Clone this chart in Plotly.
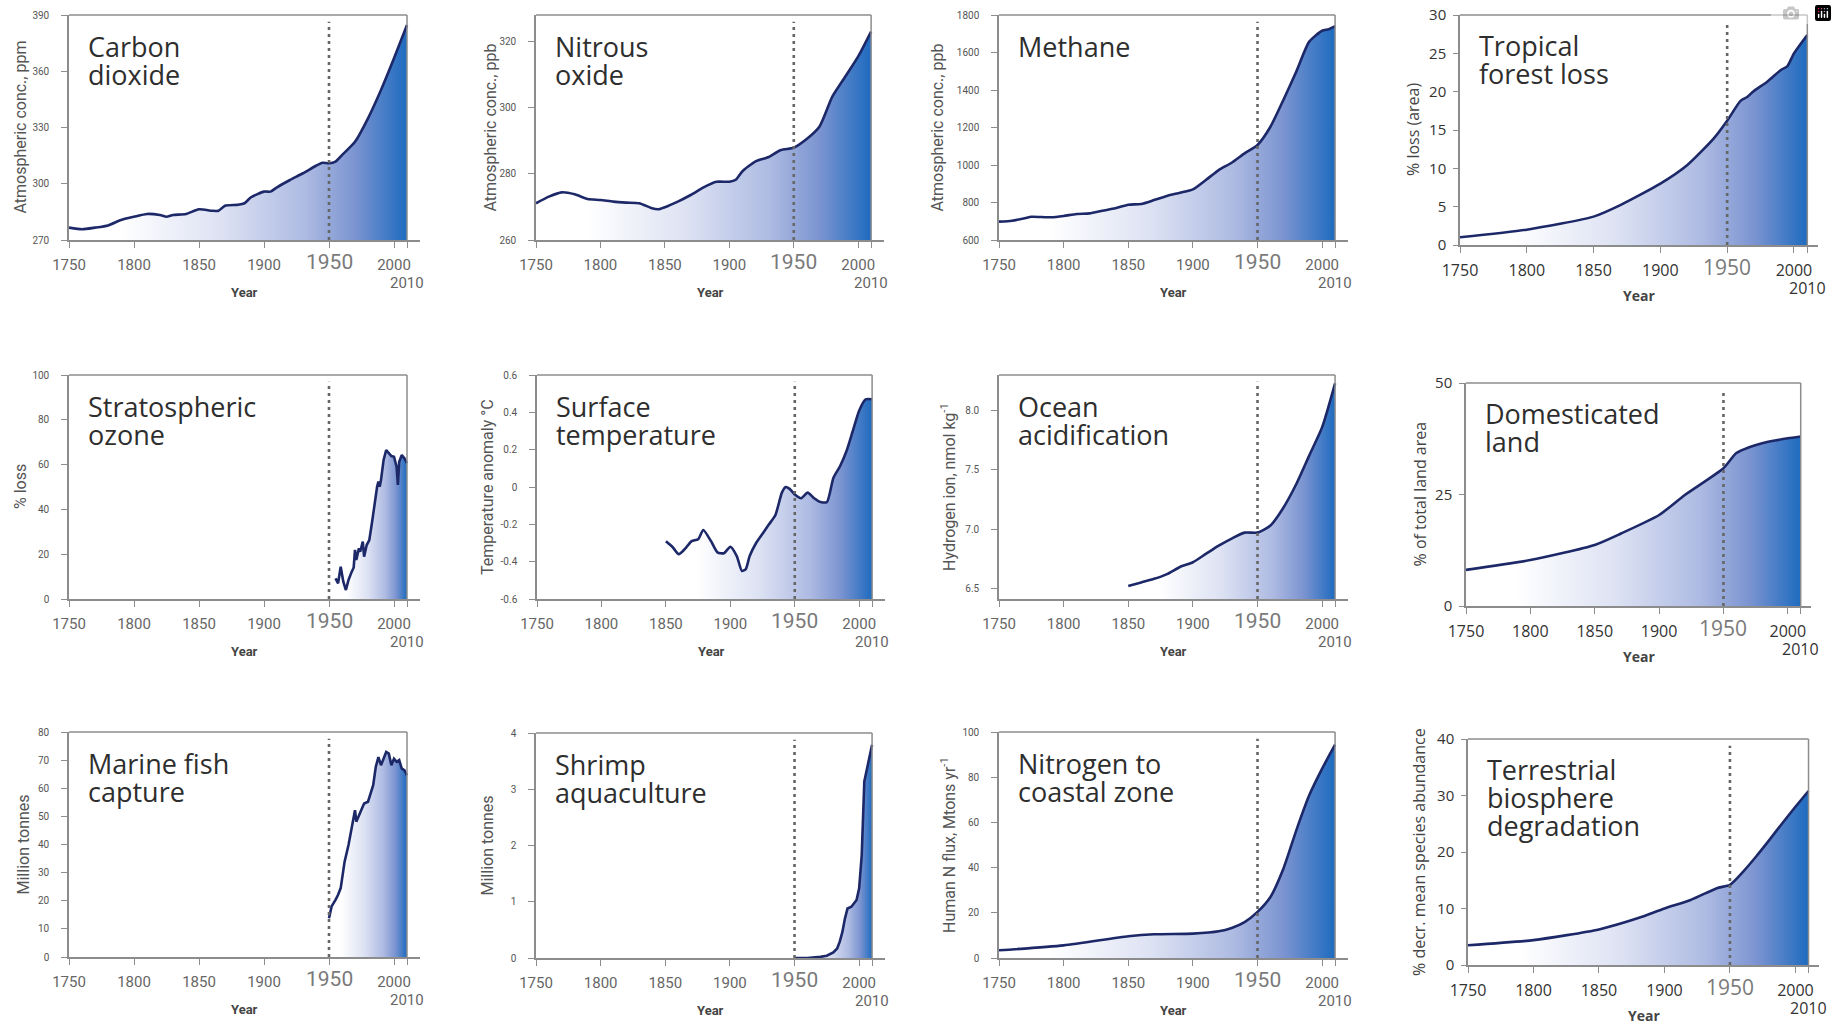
import plotly.graph_objects as go

W, H = 1837, 1024

# ---------------- data ----------------
co2_years = [1750,1760,1770,1780,1790,1800,1810,1820,1825,1830,1840,1850,1860,1865,1870,1880,1885,1890,1900,1905,1910,1920,1930,1940,1945,1950,1955,1960,1970,1980,1990,2000,2010]
co2_ppm = [276.6,275.7,276.6,277.8,280.7,282.4,283.9,283.3,282.4,283.3,283.9,286.4,285.6,285.6,288.3,288.8,289.6,292.8,295.8,295.8,298.1,302.0,305.6,309.6,311.2,310.9,311.8,315.3,322.4,334.9,350.0,366.9,384.7]

n2o_years = [1750,1760,1770,1780,1790,1800,1810,1820,1830,1840,1845,1850,1860,1870,1880,1890,1900,1905,1910,1920,1930,1940,1950,1960,1970,1980,1990,2000,2010]
n2o_ppb = [271.1,273.1,274.4,273.8,272.4,272.1,271.6,271.3,271.1,269.6,269.3,269.9,271.6,273.6,275.9,277.6,277.6,278.2,280.7,283.7,285.0,287.2,287.9,290.5,294.3,303.4,309.4,315.5,323.0]

ch4_years = [1750,1760,1770,1775,1790,1800,1810,1820,1830,1840,1850,1860,1870,1880,1890,1900,1910,1920,1930,1940,1950,1960,1970,1980,1990,2000,2005,2010]
ch4_ppb = [698,703,716,724,721,728,739,742,756,769,788,792,813,835,852,870,920,973,1012,1062,1107,1204,1347,1498,1658,1716,1724,1741]

forest_years = [1750,1800,1850,1870,1900,1920,1940,1950,1960,1965,1970,1980,1990,1995,2000,2010]
forest_loss = [1.0,2.0,3.7,5.2,8.0,10.4,13.9,16.2,18.8,19.3,20.1,21.3,22.8,23.3,25.0,27.4]

ozone_years = [1955,1957,1959,1961,1963,1965,1967,1969,1970,1971,1973,1974,1976,1977,1979,1981,1983,1985,1987,1988,1989,1990,1992,1994,1996,1998,2000,2002,2003,2004,2006,2008,2010]
ozone_loss = [9.2,7.0,14.4,7.7,4.0,8.5,11.5,14.1,21.9,17.4,22.6,21.1,25.6,18.9,24.1,26.3,33.8,42.7,50.1,52.4,50.1,53.1,62.1,66.5,65.0,63.8,63.5,59.1,50.9,61.3,64.3,62.8,60.6]

temp_years = [1850,1855,1860,1865,1870,1875,1879,1885,1890,1895,1900,1905,1909,1912,1915,1920,1925,1930,1935,1940,1943,1946,1950,1955,1960,1965,1970,1975,1980,1985,1990,1995,2000,2005,2010]
temp_anom = [-0.29,-0.32,-0.36,-0.33,-0.29,-0.28,-0.23,-0.29,-0.35,-0.355,-0.32,-0.37,-0.45,-0.44,-0.37,-0.30,-0.25,-0.20,-0.15,-0.03,0.0,-0.01,-0.04,-0.06,-0.03,-0.06,-0.08,-0.08,0.05,0.11,0.19,0.30,0.41,0.47,0.47]

ocean_years = [1850,1860,1870,1880,1890,1900,1910,1920,1930,1940,1950,1960,1970,1980,1990,2000,2010]
ocean_h = [6.52,6.55,6.58,6.62,6.68,6.72,6.79,6.86,6.92,6.97,6.97,7.03,7.18,7.38,7.62,7.86,8.23]

land_years = [1750,1800,1850,1870,1900,1920,1950,1960,1970,1980,1990,2000,2010]
land_pct = [8.1,10.3,13.7,16.2,20.4,24.9,30.9,34.3,35.6,36.5,37.1,37.6,38.0]

fish_years = [1950,1952,1955,1957,1959,1962,1965,1968,1970,1971,1973,1975,1977,1980,1982,1984,1986,1988,1990,1992,1994,1996,1998,2000,2002,2004,2006,2008,2010]
fish_mt = [13.8,18.0,20.3,22.1,24.5,33.9,39.8,46.9,52.2,48.1,50.5,52.2,54.6,55.2,58.1,61.1,67.6,71.1,68.2,70.5,72.9,72.3,68.2,70.5,69.4,70.0,67.0,66.4,64.6]

shrimp_years = [1950,1960,1970,1975,1980,1983,1985,1987,1989,1991,1994,1996,1998,2000,2002,2004,2006,2008,2010]
shrimp_mt = [0.0,0.0,0.02,0.04,0.10,0.17,0.29,0.46,0.70,0.88,0.91,0.97,1.03,1.24,1.83,3.14,3.38,3.55,3.79]

nitro_years = [1750,1800,1850,1870,1900,1920,1930,1940,1950,1960,1970,1980,1990,2000,2010]
nitro_flux = [3.4,5.6,9.6,10.5,10.8,11.8,13.3,15.9,20.4,27.0,39.5,56.5,72.0,83.8,94.4]

bio_years = [1750,1800,1850,1880,1900,1920,1940,1950,1960,1970,1980,1990,2000,2010]
bio_decr = [3.5,4.4,6.3,8.3,10.0,11.5,13.6,14.2,16.5,19.2,22.1,25.1,28.0,30.8]

x_tick_years = [1750, 1800, 1850, 1900, 2000]

# ---------------- panel configuration ----------------
panels = [
    dict(x=co2_years, y=co2_ppm, title=["Carbon", "dioxide"], ytitle="Atmospheric conc., ppm",
         yr=[270, 390], yt=[270, 300, 330, 360, 390], ytt=None, box=[69, 420, 15, 240], col=1, yx=20, smooth=True),
    dict(x=n2o_years, y=n2o_ppb, title=["Nitrous", "oxide"], ytitle="Atmospheric conc., ppb",
         yr=[260, 328], yt=[260, 280, 300, 320], ytt=None, box=[536, 884, 15, 240], col=2, yx=490, smooth=True),
    dict(x=ch4_years, y=ch4_ppb, title=["Methane"], ytitle="Atmospheric conc., ppb",
         yr=[600, 1800], yt=[600, 800, 1000, 1200, 1400, 1600, 1800], ytt=None, box=[999, 1348, 15, 240], col=3, yx=937, smooth=True),
    dict(x=forest_years, y=forest_loss, title=["Tropical", "forest loss"], ytitle="% loss (area)",
         yr=[0, 30], yt=[0, 5, 10, 15, 20, 25, 30], ytt=None, box=[1460, 1818, 15, 245], col=4, yx=1413, smooth=True),
    dict(x=ozone_years, y=ozone_loss, title=["Stratospheric", "ozone"], ytitle="% loss",
         yr=[0, 100], yt=[0, 20, 40, 60, 80, 100], ytt=None, box=[69, 420, 375, 599], col=1, yx=20, smooth=False),
    dict(x=temp_years, y=temp_anom, title=["Surface", "temperature"], ytitle="Temperature anomaly °C",
         yr=[-0.6, 0.6], yt=[-0.6, -0.4, -0.2, 0, 0.2, 0.4, 0.6], ytt=["-0.6", "-0.4", "-0.2", "0", "0.2", "0.4", "0.6"],
         box=[537, 885, 375, 599], col=2, yx=487, smooth=True),
    dict(x=ocean_years, y=ocean_h, title=["Ocean", "acidification"], ytitle="Hydrogen ion, nmol kg<sup>-1</sup>",
         yr=[6.41, 8.3], yt=[6.5, 7.0, 7.5, 8.0], ytt=["6.5", "7.0", "7.5", "8.0"], box=[999, 1348, 375, 599], col=3, yx=948, smooth=True),
    dict(x=land_years, y=land_pct, title=["Domesticated", "land"], ytitle="% of total land area",
         yr=[0, 50], yt=[0, 25, 50], ytt=None, box=[1466, 1811, 383, 606], col=4, yx=1419, smooth=True),
    dict(x=fish_years, y=fish_mt, title=["Marine fish", "capture"], ytitle="Million tonnes",
         yr=[0, 80], yt=[0, 10, 20, 30, 40, 50, 60, 70, 80], ytt=None, box=[69, 420, 732, 957], col=1, yx=23, smooth=False),
    dict(x=shrimp_years, y=shrimp_mt, title=["Shrimp", "aquaculture"], ytitle="Million tonnes",
         yr=[0, 4], yt=[0, 1, 2, 3, 4], ytt=None, box=[536, 885, 733, 958], col=2, yx=487, smooth=False),
    dict(x=nitro_years, y=nitro_flux, title=["Nitrogen to", "coastal zone"], ytitle="Human N flux, Mtons yr<sup>-1</sup>",
         yr=[0, 100], yt=[0, 20, 40, 60, 80, 100], ytt=None, box=[999, 1348, 732, 958], col=3, yx=948, smooth=True),
    dict(x=bio_years, y=bio_decr, title=["Terrestrial", "biosphere", "degradation"], ytitle="% decr. mean species abundance",
         yr=[0, 40], yt=[0, 10, 20, 30, 40], ytt=None, box=[1468, 1819, 739, 965], col=4, yx=1419, smooth=True),
]

AXC = "#8c8c8c"
LINEC = "#1c2868"
GRAD = [[0.0, "#ffffff"], [0.15, "#ffffff"], [0.45, "#dde2f3"], [0.7, "#adbae2"],
        [0.85, "#7a93d0"], [1.0, "#1e6bbf"]]
SANS_A = "Roboto, Arial, sans-serif"
SANS_B = "Open Sans, Arial, sans-serif"

fig = go.Figure()
layout = dict(width=W, height=H, margin=dict(l=0, r=0, t=0, b=0, pad=0, autoexpand=False),
              paper_bgcolor="white", plot_bgcolor="white", showlegend=False,
              shapes=[], annotations=[])

for i, p in enumerate(panels, start=1):
    sfx = "" if i == 1 else str(i)
    xref, yref = "x" + sfx, "y" + sfx
    L, R, T, B = p["box"]
    c4 = p["col"] == 4
    xmax = 2018 if c4 else 2020
    xfont = dict(family=SANS_B if c4 else SANS_A, size=16 if c4 else 15, color="#333" if c4 else "#666")
    yfont = dict(family=SANS_B if c4 else SANS_A, size=15 if c4 else 10, color="#333" if c4 else "#555")
    layout["xaxis" + sfx] = dict(
        domain=[L / W, R / W], range=[1750, xmax], anchor=yref, automargin=False,
        tickvals=x_tick_years + [1950, 2010], ticktext=[str(v) for v in x_tick_years] + ["", ""],
        ticks="outside", ticklen=6, tickcolor=AXC, tickwidth=1.2, ticklabelstandoff=4,
        showline=True, linecolor=AXC, linewidth=1.5, showgrid=False, zeroline=False,
        tickfont=xfont, fixedrange=True)
    layout["yaxis" + sfx] = dict(
        domain=[1 - B / H, 1 - T / H], range=p["yr"], anchor=xref, automargin=False,
        tickvals=p["yt"], ticktext=p["ytt"] if p["ytt"] else [str(v) for v in p["yt"]],
        ticks="outside", ticklen=5 if c4 else 6, tickcolor=AXC, tickwidth=1.2,
        ticklabelstandoff=4 if c4 else 10,
        showline=True, linecolor=AXC, linewidth=1.5, showgrid=False, zeroline=False,
        tickfont=yfont, fixedrange=True)

    base = [p["yr"][0]] * len(p["x"])
    fig.add_trace(go.Scatter(x=p["x"], y=base, xaxis=xref, yaxis=yref, mode="lines",
                             line=dict(width=0, color="rgba(0,0,0,0)"), hoverinfo="skip"))
    fig.add_trace(go.Scatter(x=p["x"], y=p["y"], xaxis=xref, yaxis=yref, mode="lines",
                             line=dict(color=LINEC, width=2.6,
                                       shape="spline" if p["smooth"] else "linear",
                                       smoothing=0.6 if p["smooth"] else 0),
                             fill="tonexty",
                             fillgradient=dict(type="horizontal", colorscale=GRAD)))

    # frame: top line and right edge at 2010
    layout["shapes"].append(dict(type="line", xref=xref, yref=yref + " domain", x0=1750, x1=2010,
                                 y0=1, y1=1, line=dict(color=AXC, width=1.5)))
    layout["shapes"].append(dict(type="line", xref=xref, yref=yref + " domain", x0=2010, x1=2010,
                                 y0=0, y1=1, line=dict(color=AXC, width=1.5)))
    # dotted 1950 marker
    layout["shapes"].append(dict(type="line", xref=xref, yref=yref + " domain", x0=1950, x1=1950,
                                 y0=0, y1=0.97, line=dict(color="#666", width=2.6, dash="3px,4px")))

    # panel title lines
    off = 21 if c4 else 22
    for k, line in enumerate(p["title"]):
        layout["annotations"].append(dict(
            text=line, xref="paper", yref="paper", x=(L + 17) / W, xanchor="left",
            y=1 - (T + off + 9 + 28 * k) / H, yanchor="middle", showarrow=False,
            font=dict(family=SANS_B, size=27, color="#2e2e2e")))
    # y title
    layout["annotations"].append(dict(
        text=p["ytitle"], xref="paper", yref="paper", x=p["yx"] / W, xanchor="center",
        y=1 - (T + B) / 2 / H, yanchor="middle", textangle=-90, showarrow=False,
        font=dict(family=SANS_B if c4 else SANS_A, size=16, color="#444" if c4 else "#555")))
    # x title
    layout["annotations"].append(dict(
        text="<b>Year</b>", xref="paper", yref="paper", x=(L + R) / 2 / W, xanchor="center",
        y=1 - (B + (50 if c4 else 52)) / H, yanchor="middle", showarrow=False,
        font=dict(family=SANS_B if c4 else SANS_A, size=14 if c4 else 13, color="#444")))
    # big 1950 label and 2010 label
    layout["annotations"].append(dict(
        text="1950", xref=xref, yref="paper", x=1950, xanchor="center",
        y=1 - (B + 22) / H, yanchor="middle", showarrow=False,
        font=dict(family=SANS_B if c4 else SANS_A, size=21, color="#7a7a7a")))
    layout["annotations"].append(dict(
        text="2010", xref=xref, yref="paper", x=2010, xanchor="center",
        y=1 - (B + 43) / H, yanchor="middle", showarrow=False,
        font=xfont))

fig.update_layout(**layout)
fig.write_html("out.html", post_script="document.body.style.margin='0';")
